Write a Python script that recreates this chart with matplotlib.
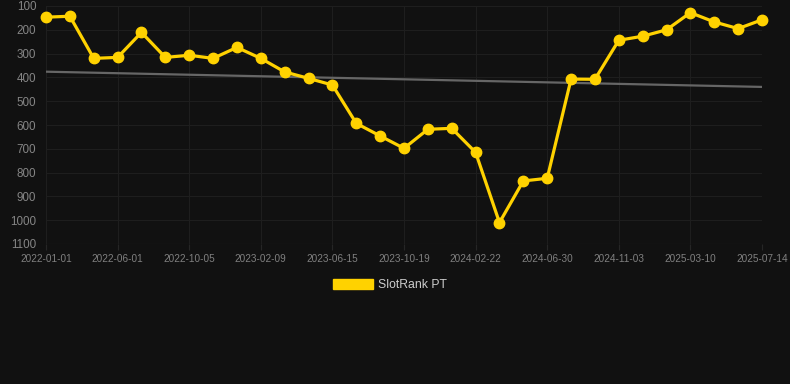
import matplotlib.pyplot as plt
from matplotlib.patches import Patch

plt.rcParams['font.family'] = ['Liberation Sans', 'DejaVu Sans']

# one rank value per point, x axis is categorical (chart shows every 3rd date)
ranks = [147, 143, 320, 316, 211, 316, 307, 320, 274, 320, 377, 404, 432, 593,
         646, 698, 618, 614, 715, 1010, 835, 824, 407, 408, 244, 227, 200, 128,
         167, 195, 158]
tick_labels = ['2022-01-01', '2022-06-01', '2022-10-05', '2023-02-09',
               '2023-06-15', '2023-10-19', '2024-02-22', '2024-06-30',
               '2024-11-03', '2025-03-10', '2025-07-14']
trend = [376, 440]  # start / end of the trend line
y_ticks = list(range(100, 1101, 100))

bg = '#111111'
W, H = 790, 384
fig = plt.figure(figsize=(W / 100, H / 100), dpi=100, facecolor=bg)
ax = fig.add_axes([46 / W, 1 - 244 / H, (762 - 46) / W, (244 - 6) / H])
ax.set_facecolor(bg)

xs = list(range(len(ranks)))
ax.plot([xs[0], xs[-1]], trend, color='#666666', lw=1.6, zorder=2)
ax.plot(xs, ranks, color='#FFD200', lw=2.3, marker='o', ms=7.5,
        zorder=3, clip_on=False)

ax.set_xlim(0, len(ranks) - 1)
ax.set_ylim(1100, 100)
ax.set_yticks(y_ticks)
ax.set_xticks(xs[::3])
ax.set_xticklabels(tick_labels)

ax.grid(True, color='#1e1e1e', lw=0.8)
for s in ax.spines.values():
    s.set_visible(False)
ax.axhline(1100, color='#292929', lw=0.8)
ax.tick_params(axis='y', length=0, pad=7, labelsize=8.4, labelcolor='#858585')
ax.tick_params(axis='x', length=4, color='#262626', pad=3, labelsize=7.2,
               labelcolor='#808080')

handle = Patch(facecolor='#FFD200', edgecolor='#FFD200')
fig.legend([handle], ['SlotRank PT'], loc='center',
           bbox_to_anchor=(390 / W, 1 - 285 / H), frameon=False,
           handlelength=3.3, handleheight=0.9, handletextpad=0.45,
           prop={'size': 8.8}, labelcolor='#cccccc')

fig.savefig('out.png', dpi=100, facecolor=bg)
